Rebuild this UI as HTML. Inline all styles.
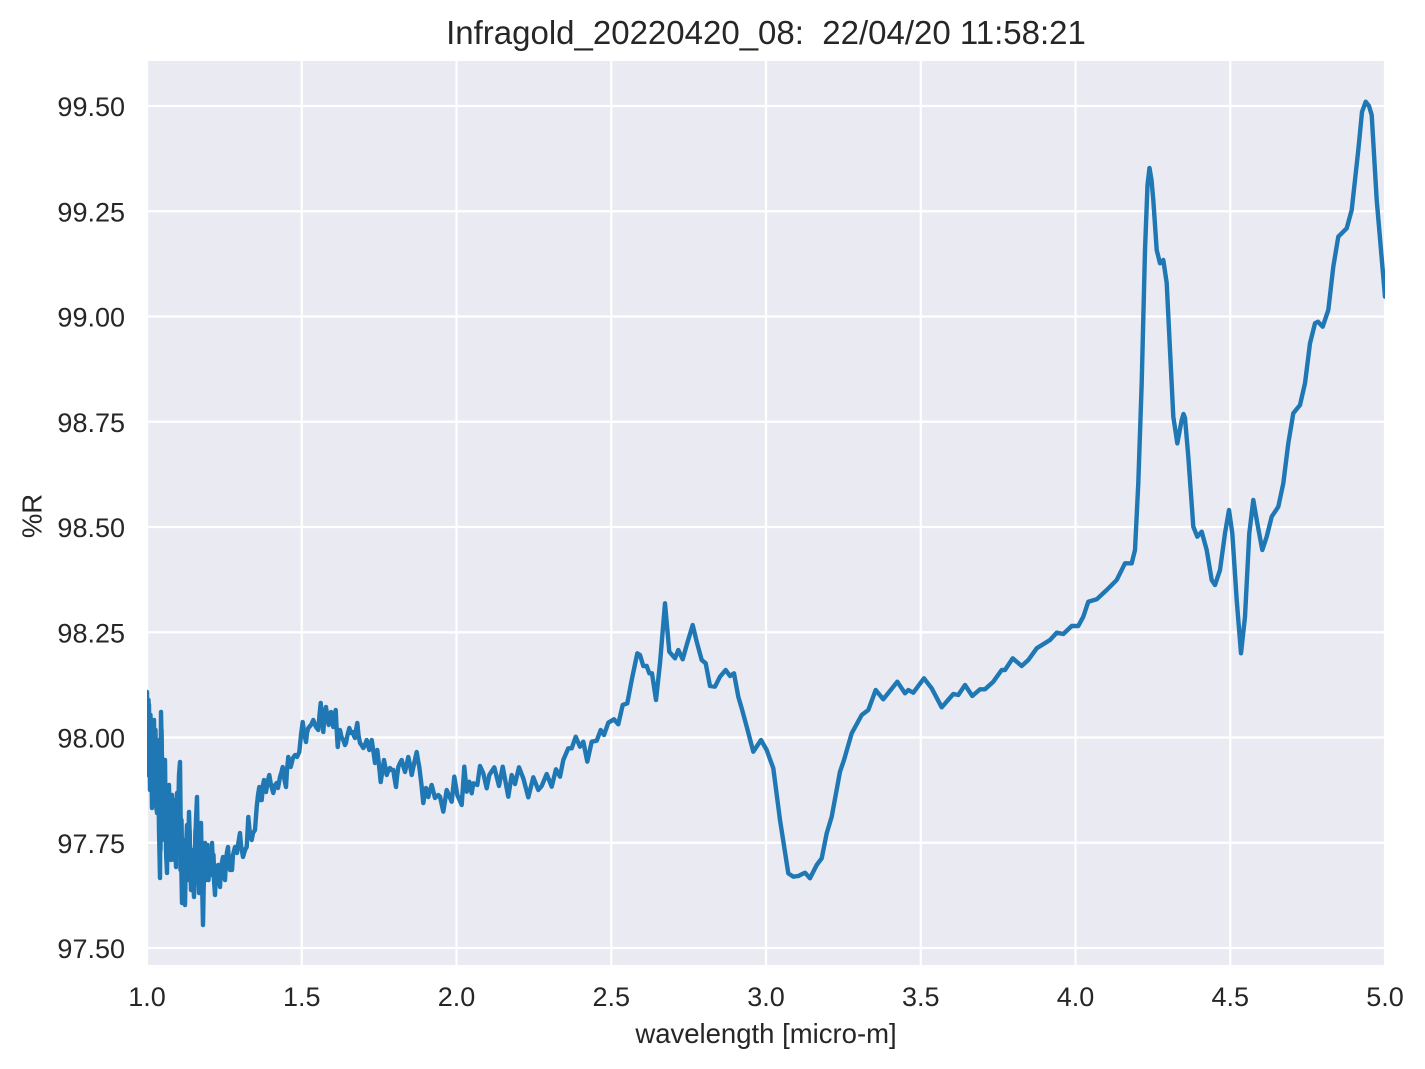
<!DOCTYPE html>
<html>
<head>
<meta charset="utf-8">
<style>
html,body{margin:0;padding:0;background:#fff;}
svg{display:block;}
text{font-family:"Liberation Sans",Arial,sans-serif;fill:#262626;}
.pre{white-space:pre;}
</style>
</head>
<body>
<svg width="1425" height="1069" viewBox="0 0 1425 1069" xmlns="http://www.w3.org/2000/svg">
<defs>
<clipPath id="pa"><rect x="147" y="61" width="1238" height="904"/></clipPath>
</defs>
<rect x="0" y="0" width="1425" height="1069" fill="#ffffff"/>
<rect x="147" y="61" width="1238" height="904" fill="#EAEAF2"/>
<g clip-path="url(#pa)" stroke="#ffffff" stroke-width="2.2">
<line x1="147" y1="61" x2="147" y2="965"/>
<line x1="301.75" y1="61" x2="301.75" y2="965"/>
<line x1="456.5" y1="61" x2="456.5" y2="965"/>
<line x1="611.25" y1="61" x2="611.25" y2="965"/>
<line x1="766" y1="61" x2="766" y2="965"/>
<line x1="920.75" y1="61" x2="920.75" y2="965"/>
<line x1="1075.5" y1="61" x2="1075.5" y2="965"/>
<line x1="1230.25" y1="61" x2="1230.25" y2="965"/>
<line x1="1385" y1="61" x2="1385" y2="965"/>
<line x1="147" y1="106" x2="1385" y2="106"/>
<line x1="147" y1="211.25" x2="1385" y2="211.25"/>
<line x1="147" y1="316.5" x2="1385" y2="316.5"/>
<line x1="147" y1="421.75" x2="1385" y2="421.75"/>
<line x1="147" y1="527" x2="1385" y2="527"/>
<line x1="147" y1="632.25" x2="1385" y2="632.25"/>
<line x1="147" y1="737.5" x2="1385" y2="737.5"/>
<line x1="147" y1="842.75" x2="1385" y2="842.75"/>
<line x1="147" y1="948" x2="1385" y2="948"/>
</g>
<g clip-path="url(#pa)" fill="none" stroke="#1f77b4" stroke-width="4.4" stroke-linejoin="round" stroke-linecap="round">
<polyline points="147.5,740 148.5,700 149.5,770 150.5,715 151.5,790 152.5,725 153.5,800 154.5,760 155.5,730 156.5,810 157.5,760 158.5,800 159.5,740 160.5,850 161.5,730 162.5,800 163.5,770 164.5,840 165.5,800 166.5,860 167.5,790 168.5,840 169.5,800 170.5,855 171.5,810 172.5,850 173.5,800 174.5,860 175.5,810 176.5,840 177.5,800 178.5,850 179.5,790 180.5,870 181.5,820 182.5,880 183.5,840 184.5,900 185.5,840 186.5,880 187.5,830 188.5,880 189.5,830 190.5,880 191.5,850 192.5,890 193.5,850 194.5,880 195.5,830 196.5,870 197.5,830 198.5,880 199.5,840 200.5,870 201.5,850 202.5,890 203.5,850 204.5,880 205.5,850 206.5,870 207.5,845 208.5,880 209.5,855 210.5,875 211.5,850 212.5,870 213.5,855 214.5,885"/>
<polyline points="
147,692 148,775 149,705 150,790 151,730 152,808 153,745 154,720 155,805 156,755 157,813 158,742 159,830 160,878 161,712 162,760 163,827 164,790 165,760 166,850 167,873 168,800 169,785 170,845 171,860 172,795 173,810 174,850 175,830 176,867 177,793 178,820 179,775 180,762 181,850 182,903 183,860 184,880 185,905 186,850 187,825 188,870 189,812 190,845 191,890 192,860 193,880 194,897 195,850 196,820 197,797 198,860 199,893 200,850 201,823 202,880 203,925 204,870 205,843 206,880 207,860 208,873 209,850 210,857 211,870 212,843 213,865 214,880 215,895 216,870 217,880 218,865 219,875 220,887 221,870 222,862 223,857 224,870 225,880 226,860 227,852 228,847 229,862 230,870 231,865 232,870 233,855 235,847 236,852 237,853 238,845 240,833 241,845 243,857 245,850 246.7,847 248.3,817 250,835 251.7,840 253,833 255,830 256.7,807 258,795 259.3,787 260.5,800 261.7,800 263,785 264,780 265,790 266,792 268,780 269.3,775 271,785 273.3,793 275,785 276.7,783 278,788 280,777 281.5,772 282.7,767 284.5,780 286,787 287,770 288.3,757 289.5,765 290.7,767 293,758 295,755 297,757 299.3,752 301,735 302.7,722 304.5,735 306,742 307,733 308.3,728 311,725 313.3,720 316,727 318.3,730 319.5,715 320.7,703 322,715 323.3,732 324.5,715 326,707 327.5,718 328.7,725 330,718 331,712 332,720 333.3,727 334.5,715 335.7,710 336.7,730 337.7,747 339,735 340,730 341.5,737 343.3,740 345,745 346,743 347.5,735 349.3,728 351,733 352.7,732 354,736 355,738 356,730 357.3,723 358.5,735 360,743 361.5,745 363.3,748 365,745 366.7,740 368,745 369.3,750 370.5,745 371.7,740 373.5,752 375,763 376,757 377.3,750 379,765 380.7,782 382.5,770 384,760 385.5,768 386.7,775 388.5,770 390,768 391.5,770 393.3,770 394.5,778 396,787 397,777 398.3,767 400,763 401.7,760 403.5,767 405,772 406.5,765 408.3,757 410,765 411.7,775 414,764 416.7,752 418,760 419.3,767 421.5,785 423.3,803 424.5,795 426,788 427,793 428.3,797 430,790 431.7,785 433.5,792 435,798 437,796 438.3,795 440,796.7
443.3,811.7 446.7,790 451.7,801.7 454.3,776.7 457.3,795 461.7,805 464.3,766.7 466.7,791.7 469.3,781.7 471.7,793.3 473.3,783.3 477.3,785 480,766 483.3,773.3 486.7,788.3 489.3,775 494.3,767.3 499,786 502.7,766.7 508.3,796.7 511.7,775 515,784 519,767.3 523.3,778.3 528.3,797.3 533.3,777.3 538.3,790 541.7,786 546.7,774 551.7,786.7 556,769.3 560,776.7 563.3,760 568.3,748.3 571.7,748.3 575.7,736.7 580,746.7 583.3,741.7 587.3,761.7 591.7,741.7 596.7,740.7 600.7,730 604,735 608.3,722.7 614,719.3 618.3,724.3 622.7,705 627.3,703.3 631.7,680 637.3,653.3 640,655 643.3,666 646.7,666 649.3,673.3 652,673.3 656,700 660,663.3 665,603.3 669.3,651.7 675,658.3 678.3,650 682.7,659.3 686.7,645 692.7,625 696.7,641.7 701.7,660 705.7,663.3 710,686 715,686.7 720,676.7 725.7,670 730,676 734,673.3 738.3,696.7 741.7,708.3 746.7,726.7 753.3,751.7 761,740 766.7,750 773.3,768.3 780,820 788.3,873.3 793.3,876.7 798.3,876 805,872.7 810,878.3 816.7,865 821.7,858.3 826.7,833.3 831.7,816.7 840,771.7
844,760 851.7,733.3 861.7,715 868.3,710 875.7,690 883.3,699.3 897.3,681.7 905,693.3 908.3,690 913.3,692.7 924,678.3 931.7,688.3 941.7,707.3 953.3,694 958.3,695 965,685 972.3,696 980,689.3 985,689.3 993.3,681.7 1001.7,670 1005,670 1012.7,658.3 1021.7,666 1028.3,660 1036.7,648.3 1050,640 1056.7,632.7 1063.3,634 1071.7,626 1078.3,626 1083.3,616.7 1088.3,601.7 1096.7,599.3 1106.7,590 1116.7,580 1125,563.3 1131.7,563.3 1135,550 1138.3,483 1141.7,383 1145,250 1147.5,185 1149.5,168 1151.5,180 1153.3,200 1156.7,250 1160,263.3 1163.3,260 1166.7,283 1170,350 1173.3,416.7 1177.3,443.3 1181.7,420 1183.5,414 1185,418 1188.3,456.7 1193.3,526.7 1197.3,536.7 1201.7,531.7 1206.7,550 1211.7,580 1215,585 1220,570 1225,533.3 1229,510 1232.3,533.3 1236.7,600 1241,653.3 1245,616.7 1249.3,533.3 1253.3,500 1257.3,523.3 1262.3,550 1266.7,536.7 1271.7,516.7 1278.3,506.7 1283.3,483.3 1288.3,443.3 1293.3,413.3 1300,405 1305,383.3 1310,343.3 1315,323.3 1318,321.7 1322.7,326.7 1328.3,310 1333.3,266.7 1338.3,236.7 1346.7,228.3 1351.7,210 1358.3,150 1362,112 1365.7,101.7 1369,106 1371.7,115 1376.7,200 1385,296.7"/>
</g>
<text class="pre" x="766" y="44" font-size="33" text-anchor="middle" xml:space="preserve">Infragold_20220420_08:  22/04/20 11:58:21</text>
<g font-size="27" text-anchor="end">
<text x="125" y="116">99.50</text>
<text x="125" y="221.25">99.25</text>
<text x="125" y="326.5">99.00</text>
<text x="125" y="431.75">98.75</text>
<text x="125" y="537">98.50</text>
<text x="125" y="642.25">98.25</text>
<text x="125" y="747.5">98.00</text>
<text x="125" y="852.75">97.75</text>
<text x="125" y="958">97.50</text>
</g>
<g font-size="27" text-anchor="middle">
<text x="147" y="1006">1.0</text>
<text x="301.75" y="1006">1.5</text>
<text x="456.5" y="1006">2.0</text>
<text x="611.25" y="1006">2.5</text>
<text x="766" y="1006">3.0</text>
<text x="920.75" y="1006">3.5</text>
<text x="1075.5" y="1006">4.0</text>
<text x="1230.25" y="1006">4.5</text>
<text x="1385" y="1006">5.0</text>
</g>
<text x="766" y="1043" font-size="27.5" text-anchor="middle">wavelength [micro-m]</text>
<text transform="translate(41.5,516) rotate(-90)" font-size="27.5" text-anchor="middle">%R</text>
</svg>
</body>
</html>
